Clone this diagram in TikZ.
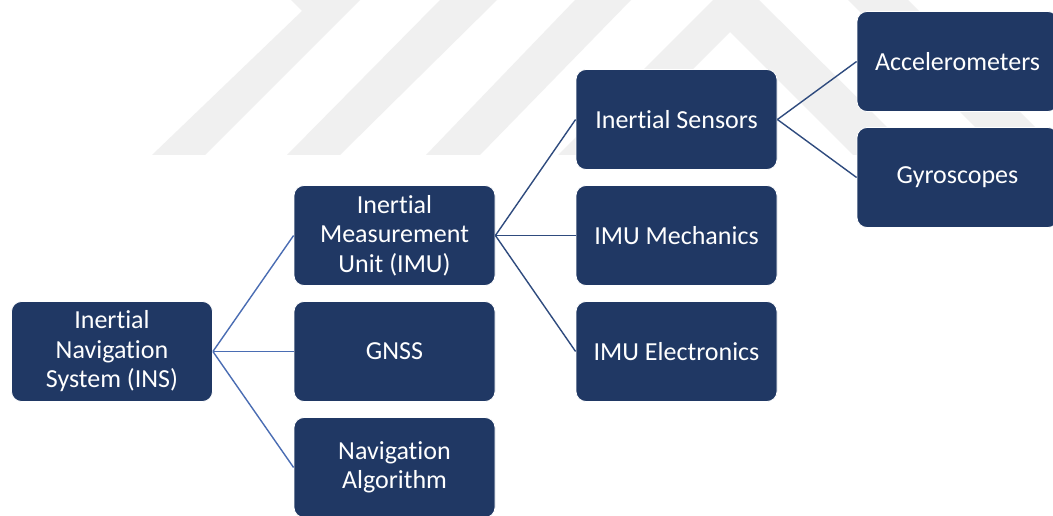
\documentclass[tikz,border=0pt]{standalone}
\usepackage{fontspec}
\setmainfont{Carlito}[Ligatures=NoCommon]
\definecolor{boxblue}{HTML}{203864}
\definecolor{linkA}{HTML}{4A6DB3}
\definecolor{linkB}{HTML}{2F4B7E}
\definecolor{wmark}{HTML}{F0F0F0}
\begin{document}
\begin{tikzpicture}[x=1pt,y=-1pt,
  box/.style={rectangle, rounded corners=10pt, fill=boxblue, draw=white, line width=0.8pt,
    minimum width=201pt, minimum height=100pt, inner sep=0pt, text=white, align=center,
    font=\fontsize{26}{29.5}\selectfont},
  linkone/.style={draw=linkA, line width=1.4pt},
  linktwo/.style={draw=linkB, line width=1.4pt}]
\useasboundingbox (0,0) rectangle (1053,516);
\clip (0,0) rectangle (1053,516);
\fill[white] (0,0) rectangle (1053,516);
% watermark
\fill[wmark] (152,155) -- (302,11) -- (291,0) -- (360,0) -- (205,155) -- cycle;
\fill[wmark] (287,155) -- (440,0) -- (497,0) -- (340,155) -- cycle;
\fill[wmark] (426,155) -- (575,0) -- (631,0) -- (480,155) -- cycle;
\fill[wmark] (558,155) -- (736,-23) -- (915,155) -- (853,155) -- (730,32) -- (607,155) -- cycle;
\fill[wmark] (848,0) -- (908,0) -- (1063,155) -- (1003,155) -- cycle;
% nodes
\node[box] (ins) at (112,351.5) {Inertial\\Navigation\\System (INS)};
\node[box] (imu) at (394.5,235.5) {Inertial\\Measurement\\Unit (IMU)};
\node[box] (gnss) at (394.5,351.5) {GNSS};
\node[box] (nav) at (394.5,467.5) {Navigation\\Algorithm};
\node[box] (is) at (676.5,119.5) {Inertial Sensors};
\node[box] (mech) at (676.5,235.5) {IMU Mechanics};
\node[box] (elec) at (676.5,351.5) {IMU Electronics};
\node[box] (acc) at (957.5,61.5) {Accelerometers};
\node[box] (gyro) at (957.5,177.5) {Gyroscopes};
% connectors
\draw[linkone] (ins.east) -- (imu.west);
\draw[linkone] (ins.east) -- (gnss.west);
\draw[linkone] (ins.east) -- (nav.west);
\draw[linktwo] (imu.east) -- (is.west);
\draw[linktwo] (imu.east) -- (mech.west);
\draw[linktwo] (imu.east) -- (elec.west);
\draw[linktwo] (is.east) -- (acc.west);
\draw[linktwo] (is.east) -- (gyro.west);
\end{tikzpicture}
\end{document}
